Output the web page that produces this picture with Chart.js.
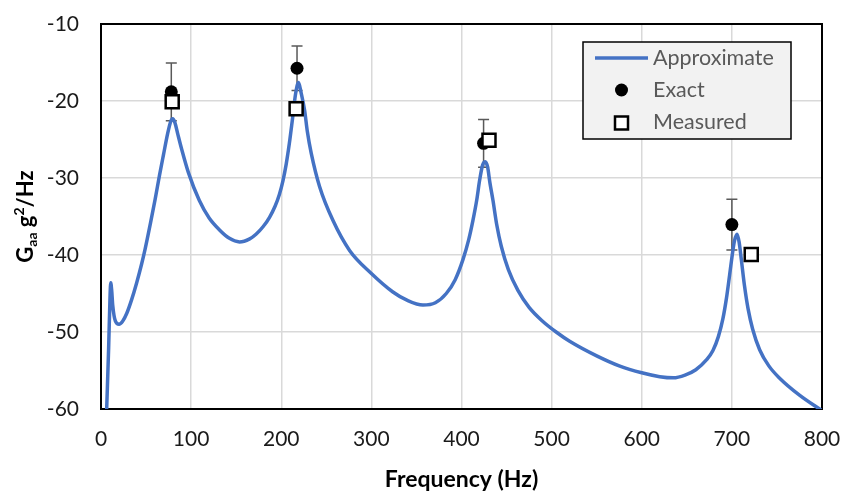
<!DOCTYPE html>
<html>
<head>
<meta charset="utf-8">
<script src="https://cdn.jsdelivr.net/npm/chart.js@4.4.1/dist/chart.umd.min.js"></script>
<style>
  body { margin: 0; background: #fff; }
  canvas { display: block; }
</style>
</head>
<body>
<canvas id="psd" width="842" height="492"></canvas>
<script>
// approximate PSD curve (Hz, dB)
const approxFreq = [6.3, 8.5, 10.0, 10.8, 11.8, 13, 16, 20, 24, 28.5, 34, 39.6, 45, 49, 55, 60, 65, 69.3, 74, 77.5,
  79.6, 82, 85, 89.6, 97, 109, 120, 131.5, 142, 153.7, 165, 172, 180, 187, 193, 198, 202, 205.5, 209, 212.5, 216, 219.2,
  222, 225.9, 229, 233.3, 242.5, 257.3, 275.8, 300, 323.9, 340, 357.2, 371, 383.1, 393, 401.6, 408, 412.7, 417, 420.1, 423.5,
  426.4, 429, 431.5, 434.9, 439, 444.2, 452, 462.6, 475, 490, 505, 520, 550, 575, 600, 620, 635, 648, 660, 672,
  679, 685, 690, 694, 697.5, 701, 703, 705.7, 708, 710.5, 714, 718, 723, 730.8, 741, 753, 775, 801];
const approxLevel = [-60, -52, -45.5, -43.6, -44.5, -46.5, -48.6, -49, -48.6, -47.6, -45.8, -43.6, -41.2, -39.2, -35.8, -32.8, -29.6, -27, -24.2, -22.6,
  -22.3, -22.8, -24.2, -26.3, -29.3, -32.9, -35.2, -36.75, -37.8, -38.3, -37.9, -37.3, -36.3, -35.1, -33.7, -32.1, -30.3, -28.2, -25.5, -22.3, -19.0, -17.6,
  -18.9, -21.2, -24, -26.8, -31.1, -35.5, -39.4, -42.4, -44.8, -45.9, -46.5, -46.2, -45, -43.2, -40.6, -38, -35.5, -32.8, -30.3, -28.3,
  -27.9, -28.6, -30.6, -32.9, -36, -38.9, -41.9, -44.6, -46.8, -48.6, -50.0, -51.2, -53.1, -54.4, -55.3, -55.8, -55.95, -55.6, -54.9, -53.6,
  -52.4, -50.6, -48.3, -45.6, -42.6, -39.5, -38.1, -37.3, -38.3, -40.6, -44.0, -47.0, -49.6, -52.3, -54.4, -56.0, -58.2, -60.3];

const exactFreq = [78, 217.5, 424.5, 700];
const exactLevel = [-18.8, -15.75, -25.5, -36.05];
const exactError = [3.75, 2.9, 3.1, 3.3];

const measuredFreq = [79, 216.5, 430.5, 721.5];
const measuredLevel = [-20.1, -21.0, -25.1, -39.95];

const xTicks = [0, 100, 200, 300, 400, 500, 600, 700, 800];
const yTicks = [-60, -50, -40, -30, -20, -10];

const legendLabels = ['Approximate', 'Exact', 'Measured'];

const FONT = 'Lato, "Liberation Sans", sans-serif';

const toPoints = (xs, ys) => xs.map((x, i) => ({ x, y: ys[i] }));

// plot frame + error bars, drawn under the series
const frameAndErrors = {
  id: 'frameAndErrors',
  beforeDatasetsDraw(chart) {
    const { ctx, chartArea: a, scales: { x, y } } = chart;
    ctx.save();
    ctx.strokeStyle = '#000';
    ctx.lineWidth = 2;
    ctx.strokeRect(a.left, a.top, a.right - a.left, a.bottom - a.top);

    ctx.strokeStyle = '#595959';
    ctx.lineWidth = 1.5;
    exactFreq.forEach((f, i) => {
      const px = x.getPixelForValue(f);
      const top = y.getPixelForValue(exactLevel[i] + exactError[i]);
      const bot = y.getPixelForValue(exactLevel[i] - exactError[i]);
      ctx.beginPath();
      ctx.moveTo(px, top); ctx.lineTo(px, bot);
      ctx.moveTo(px - 5.5, top); ctx.lineTo(px + 5.5, top);
      ctx.moveTo(px - 5.5, bot); ctx.lineTo(px + 5.5, bot);
      ctx.stroke();
    });
    ctx.restore();
  }
};

// axis titles and the boxed legend
const labels = {
  id: 'labels',
  afterDraw(chart) {
    const { ctx, chartArea: a } = chart;
    ctx.save();
    ctx.fillStyle = '#000';
    ctx.textBaseline = 'alphabetic';

    // x title
    ctx.font = 'bold 23px ' + FONT;
    ctx.textAlign = 'center';
    ctx.fillText('Frequency (Hz)', (a.left + a.right) / 2, 487);

    // y title: G_aa g^2/Hz, rotated
    const parts = [
      { t: 'G', size: 22, dy: 0 },
      { t: 'aa', size: 14, dy: 4 },
      { t: ' g', size: 22, dy: 0 },
      { t: '2', size: 14, dy: -9 },
      { t: '/Hz', size: 22, dy: 0 }
    ];
    let total = 0;
    parts.forEach(p => {
      ctx.font = 'bold ' + p.size + 'px ' + FONT;
      p.w = ctx.measureText(p.t).width;
      total += p.w;
    });
    ctx.translate(33, (a.top + a.bottom) / 2);
    ctx.rotate(-Math.PI / 2);
    ctx.textAlign = 'left';
    let cx = -total / 2;
    parts.forEach(p => {
      ctx.font = 'bold ' + p.size + 'px ' + FONT;
      ctx.fillText(p.t, cx, p.dy);
      cx += p.w;
    });
    ctx.setTransform(1, 0, 0, 1, 0, 0);

    // legend
    ctx.fillStyle = '#f2f2f2';
    ctx.fillRect(583, 42, 208, 97);
    ctx.strokeStyle = '#000';
    ctx.lineWidth = 1.5;
    ctx.strokeRect(583, 42, 208, 97);

    ctx.strokeStyle = '#4472C4';
    ctx.lineWidth = 3.5;
    ctx.beginPath();
    ctx.moveTo(595, 58); ctx.lineTo(648, 58);
    ctx.stroke();

    ctx.fillStyle = '#000';
    ctx.beginPath();
    ctx.arc(621.5, 90, 6.5, 0, Math.PI * 2);
    ctx.fill();

    ctx.fillStyle = '#fff';
    ctx.fillRect(615, 116.5, 13, 13);
    ctx.strokeStyle = '#000';
    ctx.lineWidth = 2.5;
    ctx.strokeRect(615, 116.5, 13, 13);

    ctx.fillStyle = '#595959';
    ctx.font = '21.5px ' + FONT;
    ctx.textAlign = 'left';
    ctx.textBaseline = 'middle';
    [58, 90, 122].forEach((yy, i) => ctx.fillText(legendLabels[i], 653, yy));
    ctx.restore();
  }
};

new Chart(document.getElementById('psd'), {
  type: 'scatter',
  data: {
    datasets: [
      {
        label: 'Measured',
        data: toPoints(measuredFreq, measuredLevel),
        pointStyle: 'rect',
        pointRadius: 9.2,
        pointBackgroundColor: '#fff',
        pointBorderColor: '#000',
        pointBorderWidth: 2.5,
        order: 0
      },
      {
        label: 'Exact',
        data: toPoints(exactFreq, exactLevel),
        pointStyle: 'circle',
        pointRadius: 6.5,
        pointBackgroundColor: '#000',
        pointBorderColor: '#000',
        pointBorderWidth: 0,
        order: 1
      },
      {
        label: 'Approximate',
        data: toPoints(approxFreq, approxLevel),
        showLine: true,
        borderColor: '#4472C4',
        borderWidth: 3.5,
        pointRadius: 0,
        cubicInterpolationMode: 'monotone',
        order: 2
      }
    ]
  },
  options: {
    responsive: false,
    animation: false,
    devicePixelRatio: 1,
    layout: { padding: { left: 0, top: 24, right: 20, bottom: 0 } },
    plugins: { legend: { display: false }, tooltip: { enabled: false } },
    scales: {
      x: {
        type: 'linear',
        min: 0,
        max: 800,
        afterFit: s => { s.height = 83; s.paddingLeft = 0; s.paddingRight = 0; },
        afterBuildTicks: s => { s.ticks = xTicks.map(v => ({ value: v })); },
        grid: { color: '#d9d9d9', lineWidth: 1.5, drawTicks: false },
        border: { display: false },
        ticks: { padding: 18, color: '#1a1a1a', font: { family: FONT, size: 21 }, maxRotation: 0 }
      },
      y: {
        min: -60,
        max: -10,
        afterFit: s => { s.width = 101; s.paddingTop = 0; s.paddingBottom = 0; },
        afterBuildTicks: s => { s.ticks = yTicks.map(v => ({ value: v })); },
        grid: { color: '#d9d9d9', lineWidth: 1.5, drawTicks: false },
        border: { display: false },
        ticks: { padding: 22, color: '#1a1a1a', font: { family: FONT, size: 21 } }
      }
    }
  },
  plugins: [frameAndErrors, labels]
});
</script>
</body>
</html>
